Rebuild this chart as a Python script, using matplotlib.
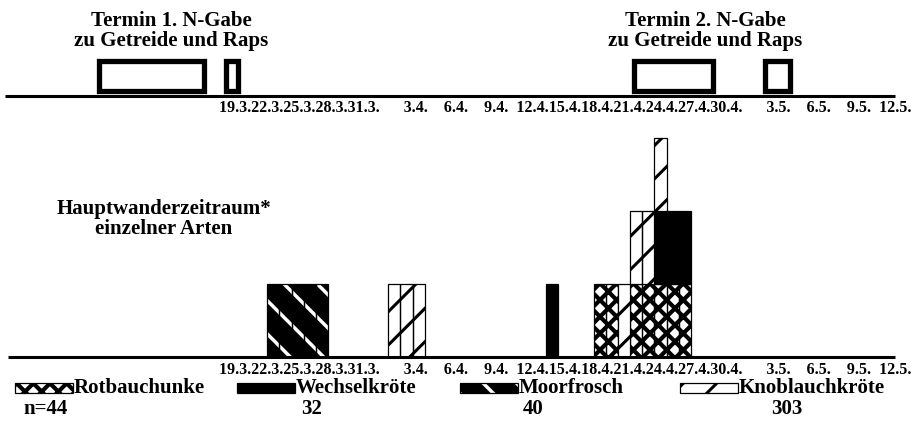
import numpy as np
import pandas as pd
import matplotlib
matplotlib.use("Agg")
from matplotlib import pyplot as plt
from matplotlib.patches import Rectangle

# tick labels (every 3rd day, starting 19.3.)
tick_labels = ["19.3.", "22.3.", "25.3.", "28.3.", "31.3.", "3.4.", "6.4.", "9.4.", "12.4.",
               "15.4.", "18.4.", "21.4.", "24.4.", "27.4.", "30.4.", "3.5.", "6.5.", "9.5.", "12.5."]

# main migration days per species
species = ["Rotbauchunke", "Wechselkröte", "Moorfrosch", "Knoblauchkröte"]
counts = ["n=44", "32", "40", "303"]
rotbauch_days = ["19.4.", "20.4.", "22.4.", "23.4.", "24.4.", "25.4.", "26.4."]
wechsel_days = ["15.4.", "24.4.", "25.4.", "26.4."]
moor_days = ["23.3.", "24.3.", "25.3.", "26.3.", "27.3."]
knob_days = ["2.4.", "3.4.", "4.4.", "21.4.", "22.4.", "23.4.", "24.4."]

# N-Gabe windows, days relative to 19.3. (start, end)
termin1 = [(-9.9, -1.2), (0.6, 1.6)]
termin2 = [(34.3, 40.8), (45.1, 47.2)]

START = pd.Timestamp("2000-03-19")


def to_day(s):
    return (pd.to_datetime(s + "2000", format="%d.%m.%Y") - START).days


styles = {
    "Rotbauchunke": dict(face="white", hc="black", hatch="xx", hlw=3.0),
    "Wechselkröte": dict(face="black", hc="black", hatch=None, hlw=1.0),
    "Moorfrosch": dict(face="black", hc="white", hatch="\\", hlw=2.5),
    "Knoblauchkröte": dict(face="white", hc="black", hatch="/", hlw=2.2),
}

plt.rcParams["font.family"] = ["Liberation Serif", "DejaVu Serif"]
plt.rcParams["font.weight"] = "bold"

W, H = 917, 422
fig = plt.figure(figsize=(W / 100, H / 100), dpi=100)
XLIM = (-18.1, 57.7)
UNIT = 73  # px per stacked bar


def fx(px):
    return px / W


def fy(py):
    return 1 - py / H


def hatched(ax, x, h, b, st, width=1.0):
    with plt.rc_context({"hatch.linewidth": st["hlw"]}):
        ax.bar(x, h, width=width, bottom=b, align="edge", color=st["face"],
               edgecolor=st["hc"], hatch=st["hatch"], linewidth=0)
    ax.bar(x, h, width=width, bottom=b, align="edge", fill=False,
           edgecolor="black", linewidth=0.9)


# ---- bar axes
ax = fig.add_axes([0, (H - 357) / H, 1, 260 / H])
ax.set_xlim(*XLIM)
ax.set_ylim(0, 260 / UNIT)
ax.axis("off")

all_days = np.arange(0, 57)
series = {
    "Rotbauchunke": rotbauch_days,
    "Wechselkröte": wechsel_days,
    "Moorfrosch": moor_days,
    "Knoblauchkröte": knob_days,
}
bottom = np.zeros(len(all_days))
for name in species:
    d = [to_day(s) for s in series[name]]
    vals = np.isin(all_days, d).astype(float)
    m = vals > 0
    hatched(ax, all_days[m], vals[m], bottom[m], styles[name])
    bottom += vals

ax.hlines(0, -17.4, 55.9, color="black", lw=2.2, clip_on=False)


def tick_string(labels):
    # labels typed in one line, short ones padded with spaces
    s = ""
    prev_short = False
    for i, lab in enumerate(labels):
        short = len(lab) == 4
        if i > 0:
            if short and not prev_short:
                s += " " * 6
            elif short:
                s += " " * 4
            elif prev_short:
                s += " " * 2
        s += lab
        prev_short = short
    return s


ticks = tick_string(tick_labels)
ax.text(to_day(tick_labels[0]), -5 / 260, ticks, transform=ax.get_xaxis_transform(),
        ha="left", va="top", fontsize=11.5, clip_on=False)

# ---- top timeline axes
axt = fig.add_axes([0, (H - 96) / H, 1, 60 / H])
axt.set_xlim(*XLIM)
axt.set_ylim(0, 60)
axt.axis("off")
axt.hlines(0, -17.7, 55.9, color="black", lw=2.2, clip_on=False)
for a, b in termin1 + termin2:
    axt.add_patch(Rectangle((a, 5.5), b - a, 30, fill=False, edgecolor="black", lw=3.8))
axt.text(to_day(tick_labels[0]), -4 / 60, ticks, transform=axt.get_xaxis_transform(),
         ha="left", va="top", fontsize=11.5, clip_on=False)

fig.text(fx(171), fy(31), "Termin 1. N-Gabe\nzu Getreide und Raps", ha="center",
         va="center", fontsize=15, linespacing=1.0)
fig.text(fx(705), fy(31), "Termin 2. N-Gabe\nzu Getreide und Raps", ha="center",
         va="center", fontsize=15, linespacing=1.0)
fig.text(fx(164), fy(219), "Hauptwanderzeitraum*\neinzelner Arten", ha="center",
         va="center", fontsize=15, linespacing=1.0)

# ---- legend
lax = fig.add_axes([0, 0, 1, 1])
lax.set_xlim(0, W)
lax.set_ylim(H, 0)
lax.axis("off")
leg_x = [15, 237, 460, 680]
cnt_x = [46, 312, 533, 787]
for name, lx, cnt, cx in zip(species, leg_x, counts, cnt_x):
    hatched(lax, [lx], [10], [383], styles[name], width=58)
    lax.text(lx + 59, 388, name, ha="left", va="center", fontsize=15)
    lax.text(cx, 409, cnt, ha="center", va="center", fontsize=15)

fig.savefig("out.png", dpi=100)
